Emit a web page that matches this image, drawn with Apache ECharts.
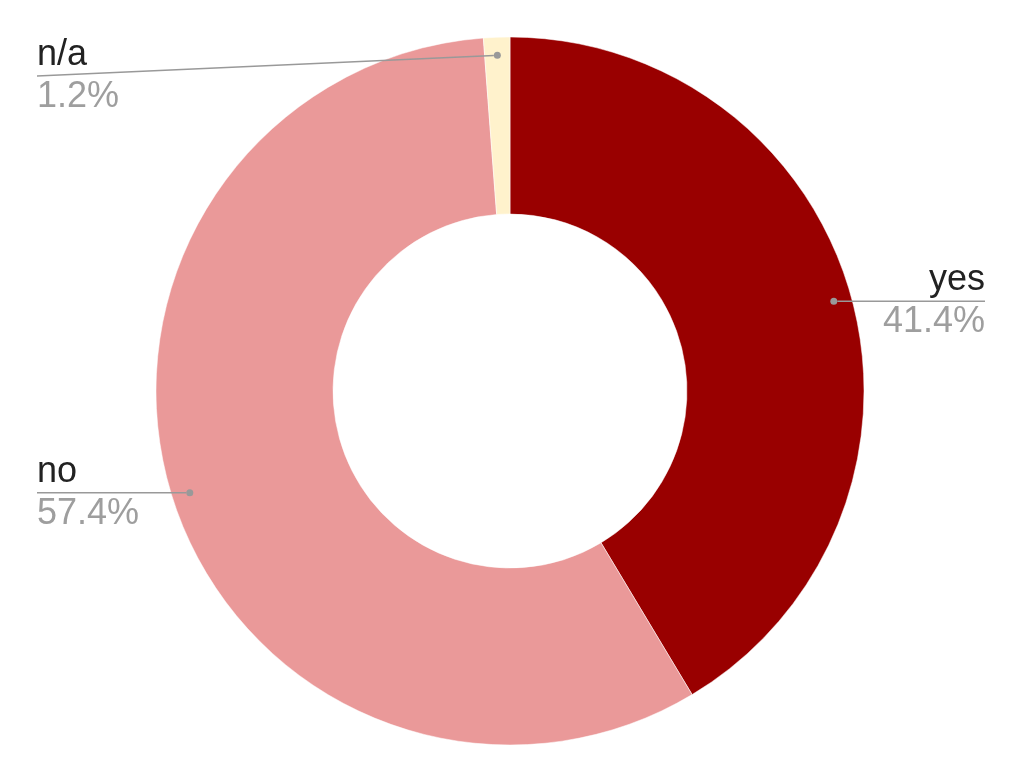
<!DOCTYPE html>
<html><head><meta charset="utf-8">
<script src="https://cdn.jsdelivr.net/npm/echarts@6/dist/echarts.min.js"></script>
<style>html,body{margin:0;padding:0;background:#fff}#c{width:1024px;height:782px}</style>
</head><body><div id="c"></div>
<script>
const categories = ['yes', 'no', 'n/a'];
const values = [41.4, 57.4, 1.2];
const colors = ['#990000', '#ea9999', '#fff2cc'];

const CX = 510, CY = 391, R_OUT = 354, R_IN = 177, R_DOT = 336;
const total = values.reduce((a, b) => a + b, 0);
const mids = [];
let acc = 0;
values.forEach(v => { mids.push(acc + v / 2); acc += v; });

function dotPoint(i) {
  const a = mids[i] / total * 2 * Math.PI;
  return [CX + R_DOT * Math.sin(a), CY - R_DOT * Math.cos(a)];
}
function labelGeom(i) {
  const p0 = dotPoint(i);
  const right = p0[0] > CX;
  const ly = (i === 2) ? 76 : p0[1];
  const ex = right ? 985 : 37;
  const bend = (i === 2) ? [148, ly] : [p0[0], ly];
  return {p0, right, ly, ex, bend};
}

const pieData = categories.map((c, i) => ({name: c, value: values[i], itemStyle: {color: colors[i]}}));

const chart = echarts.init(document.getElementById('c'), null, {renderer: 'canvas'});
chart.setOption({
  animation: false,
  polar: {center: [CX, CY], radius: R_OUT},
  angleAxis: {type: 'value', min: 0, max: total, startAngle: 90, clockwise: true, show: false},
  radiusAxis: {type: 'value', min: 0, max: R_OUT, show: false},
  series: [{
    type: 'pie',
    z: 1,
    center: [CX, CY],
    radius: [R_IN, R_OUT],
    startAngle: 90,
    clockwise: true,
    silent: true,
    avoidLabelOverlap: false,
    data: pieData,
    itemStyle: {borderColor: '#fff', borderWidth: 0.5},
    label: {
      show: true,
      formatter: p => '{n|' + p.name + '}\n{v|' + p.value.toFixed(1) + '%}',
      rich: {
        n: {fontFamily: 'Liberation Sans, Arial', fontSize: 36, lineHeight: 42, color: '#222222'},
        v: {fontFamily: 'Liberation Sans, Arial', fontSize: 36, lineHeight: 42, color: '#9e9e9e'}
      }
    },
    labelLine: {show: false},
    labelLayout: function (params) {
      const g = labelGeom(params.dataIndex);
      return {x: g.ex, y: g.ly, align: g.right ? 'right' : 'left', verticalAlign: 'middle'};
    }
  }, {
    type: 'scatter',
    coordinateSystem: 'polar',
    symbol: 'circle',
    symbolSize: 7,
    itemStyle: {color: '#999999', opacity: 1},
    z: 10,
    silent: true,
    data: mids.map((m, i) => ({name: categories[i], value: [R_DOT, m]})),
    label: {
      show: true,
      formatter: '.',
      fontSize: 1,
      color: 'rgba(0,0,0,0)'
    },
    labelLine: {show: true, lineStyle: {color: '#999999', width: 1.5, opacity: 1}},
    labelLayout: function (params) {
      const g = labelGeom(params.dataIndex);
      return {
        x: g.ex, y: g.ly, align: g.right ? 'left' : 'right', verticalAlign: 'middle',
        labelLinePoints: [g.p0, g.bend, [g.ex, g.ly]]
      };
    }
  }]
});
</script></body></html>
